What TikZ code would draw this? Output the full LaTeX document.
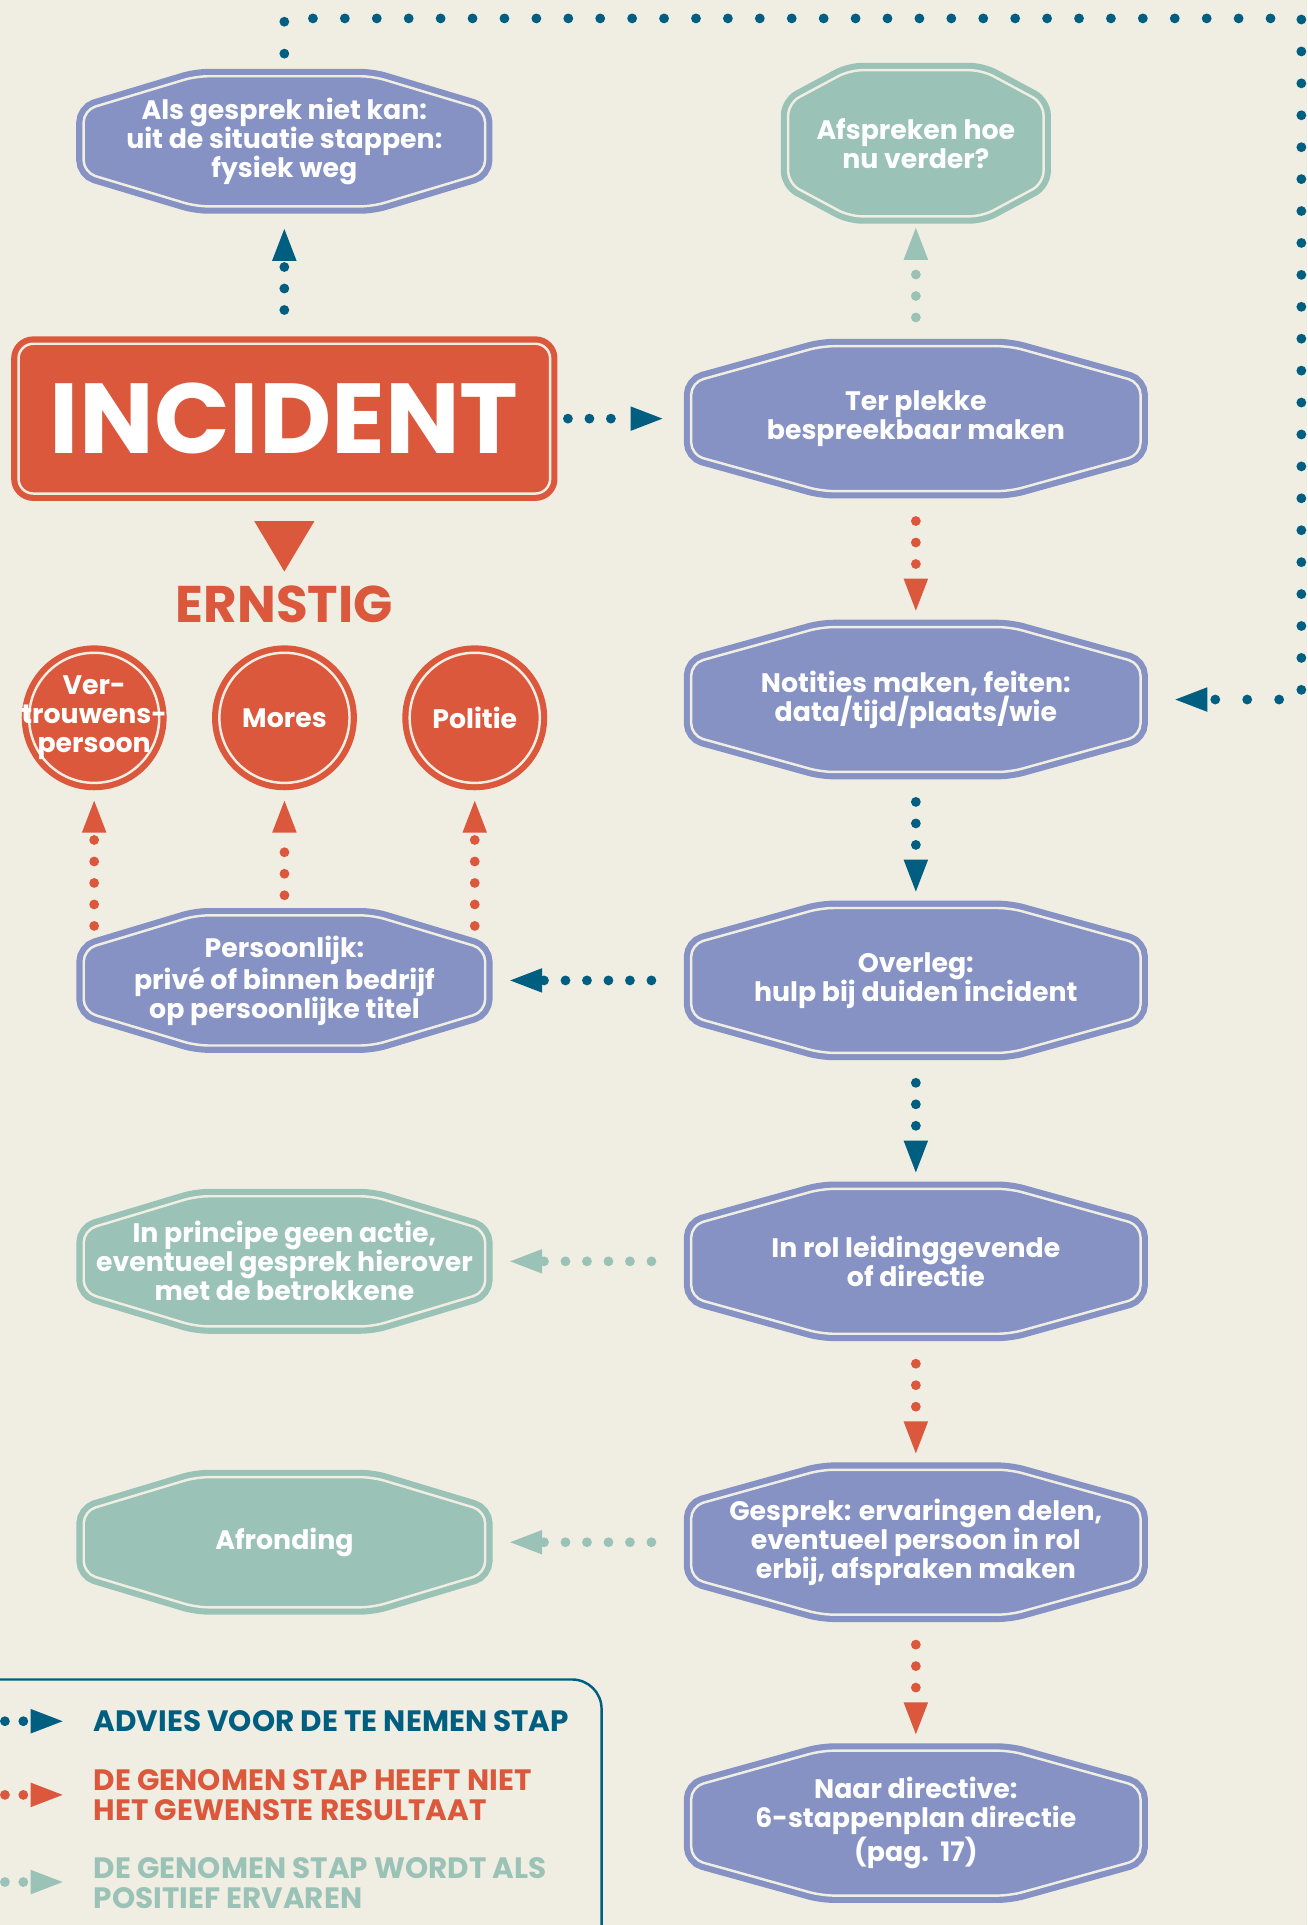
\documentclass[tikz,border=0pt]{standalone}
\usepackage{fontspec}
\setmainfont{Poppins}
\usepackage{tikz}
\usetikzlibrary{
  arrows.meta,
  positioning,
  calc
}
\definecolor{bgcream}{RGB}{240,238,227}
\definecolor{advblue}{RGB}{0,94,128}
\definecolor{nietred}{RGB}{220,88,60}
\definecolor{posgreen}{RGB}{155,194,182}
\definecolor{staplila}{RGB}{133,146,195}
\newcommand{\stapfont}{\fontsize{10.9}{11.8}\selectfont\bfseries}
% octagon with double border, drawn inside a node (path picture)
\newcommand{\octvorm}[3]{%
  \path[draw=#1, fill=#1, double=bgcream, double distance=1pt,
        line width=2.5pt, rounded corners=5pt]
    let \p1=(path picture bounding box.center),
        \p2=(path picture bounding box.north east),
        \n1={\x2-\x1-3pt}, \n2={\y2-\y1-3pt} in
    (\x1, \y1+\n2) -- (\x1+#2*\n1, \y1+\n2) -- (\x1+\n1, \y1+#3*\n2)
    -- (\x1+\n1, \y1-#3*\n2) -- (\x1+#2*\n1, \y1-\n2) -- (\x1-#2*\n1, \y1-\n2)
    -- (\x1-\n1, \y1-#3*\n2) -- (\x1-\n1, \y1+#3*\n2) -- (\x1-#2*\n1, \y1+\n2)
    -- cycle;}
\tikzset{
  hexbase/.style={rectangle, inner sep=0pt, align=center,
    text=white, font=\stapfont},
  stapbox/.style={hexbase, minimum width=189pt, minimum height=65pt,
    path picture={\octvorm{staplila}{0.42}{0.5}}},
  zijbox/.style={hexbase, minimum width=169.5pt, minimum height=59pt,
    path picture={\octvorm{#1}{0.44}{0.48}}},
  afsbox/.style={hexbase, minimum width=110pt, minimum height=65.5pt,
    path picture={\octvorm{posgreen}{0.52}{0.55}}},
  advpijl/.style={draw=advblue, line width=4pt, line cap=round,
    dash pattern=on 0pt off 8.75pt, shorten <=9pt, shorten >=3.5pt,
    -{Triangle[length=13pt, width=10pt, line width=0pt]}},
  nietpijl/.style={advpijl, draw=nietred},
  pospijl/.style={advpijl, draw=posgreen},
}

\begin{document}
\begin{tikzpicture}[
  x=0.5pt, y=-0.5pt,
  incbox/.style={rectangle, draw=nietred, fill=nietred, double=bgcream,
    double distance=1pt, line width=2.5pt, rounded corners=6pt,
    minimum width=216.5pt, minimum height=61pt, inner sep=0pt,
    text=white, font=\fontsize{40.5}{40.5}\selectfont\bfseries},
  cirkel/.style={circle, draw=nietred, fill=nietred, double=bgcream,
    double distance=1pt, line width=2.5pt, minimum size=53pt,
    inner sep=-15pt, align=center, text=white, font=\stapfont},
  legtext/.style={anchor=west, inner sep=0pt, align=left,
    font=\fontsize{12}{12.2}\selectfont\bfseries}
]
  \fill[bgcream] (0,0) rectangle (1065,1568);
  \useasboundingbox (0,0) rectangle (1065,1568);

  % right column
  \node[stapbox] (ter) at (746,341) {Ter plekke\\bespreekbaar maken};
  \node[stapbox, below=49pt of ter] (notities)
    {Notities maken, feiten:\\data/tijd/plaats/wie};
  \node[stapbox, below=49pt of notities] (overleg)
    {Overleg:\\hulp bij duiden incident};
  \node[stapbox, below=49pt of overleg] (inrol)
    {In rol leidinggevende\\of directie};
  \node[stapbox, below=49pt of inrol] (gesprek)
    {Gesprek: ervaringen delen,\\eventueel persoon in rol\\erbij, afspraken maken};
  \node[stapbox, below=49pt of gesprek] (naar)
    {Naar directive:\\6-stappenplan directie\\(pag.\ \ 17)};
  \node[afsbox, above=46.5pt of ter] (afspreken) {Afspreken hoe\\nu verder?};

  % left column
  \node[incbox, left=53pt of ter] (incident) {INCIDENT};
  \node[zijbox=staplila, above=51.5pt of incident] (als)
    {Als gesprek niet kan:\\uit de situatie stappen:\\fysiek weg};
  \node[inner sep=0pt, text=nietred, below=36pt of incident,
        font=\fontsize{21}{21}\selectfont\bfseries] (ernstig) {ERNSTIG};
  \fill[nietred] ([yshift=-10pt]incident.south) ++(-12.25pt,0)
    -- ++(24.5pt,0) -- ++(-12.25pt,-20.5pt) -- cycle;
  \node[zijbox=staplila, left=77.5pt of overleg] (pers)
    {Persoonlijk:\\privé of binnen bedrijf\\op persoonlijke titel};
  \node[zijbox=posgreen, left=77.5pt of inrol] (principe)
    {In principe geen actie,\\eventueel gesprek hierover\\met de betrokkene};
  \node[zijbox=posgreen, left=77.5pt of gesprek] (afronding) {Afronding};

  % circles
  \node[cirkel, above=49.5pt of pers] (mores) {Mores};
  \node[cirkel, left=22pt of mores] (vert) {Ver-\\trouwens-\\persoon};
  \node[cirkel, right=22pt of mores] (politie) {Politie};

  % arrows
  \draw[advpijl, shorten <=12.5pt, shorten >=6pt] (incident.north) -- (als.south);
  \draw[advpijl, shorten <=6pt, shorten >=8.5pt] (incident.east) -- (ter.west);
  \draw[pospijl, shorten <=8.5pt, shorten >=1.5pt] (ter.north) -- (afspreken.south);
  \draw[nietpijl] (ter) -- (notities);
  \draw[advpijl] (notities) -- (overleg);
  \draw[advpijl] (overleg) -- (inrol);
  \draw[nietpijl] (inrol) -- (gesprek);
  \draw[nietpijl] (gesprek) -- (naar);
  \draw[advpijl, shorten <=13pt, shorten >=7pt] (overleg) -- (pers);
  \foreach \a/\b in {inrol/principe, gesprek/afronding} {
    \draw[pospijl, shorten <=13pt, shorten >=7pt] (\a) -- (\b);
  }
  \foreach \c in {vert, politie} {
    \draw[nietpijl, shorten <=0pt, shorten >=6pt]
      ($(\c.south |- pers.north)+(0,-7.5pt)$) -- (\c.south);
  }
  \draw[nietpijl, shorten <=5pt, shorten >=6pt] (pers.north) -- (mores.south);

  % loop back to notities
  \coordinate (hoek) at (1060,15);
  \draw[advpijl, dash pattern=on 0pt off 13pt, shorten <=6pt, shorten >=11pt]
    (als.north) |- (hoek) |- (notities.east);

  % legend
  \draw[advblue, line width=1pt, rounded corners=12pt]
    (-10,1368) -- (490,1368) -- (490,1600);
  \coordinate (lg1a) at (4,1402);  \coordinate (lg1b) at (51,1402);
  \coordinate (lg2a) at (4,1462);  \coordinate (lg2b) at (51,1462);
  \coordinate (lg3a) at (4,1533);  \coordinate (lg3b) at (51,1533);
  \draw[advpijl, shorten <=0pt, shorten >=0pt, dash pattern=on 0pt off 7.5pt] (lg1a) -- (lg1b);
  \draw[nietpijl, shorten <=0pt, shorten >=0pt, dash pattern=on 0pt off 7.5pt] (lg2a) -- (lg2b);
  \draw[pospijl, shorten <=0pt, shorten >=0pt, dash pattern=on 0pt off 7.5pt] (lg3a) -- (lg3b);
  \node[legtext, text=advblue] (lgadv) at (76,1402) {ADVIES VOOR DE TE NEMEN STAP};
  \node[legtext, text=nietred] (lgniet) at (76,1462)
    {DE GENOMEN STAP HEEFT NIET\\HET GEWENSTE RESULTAAT};
  \node[legtext, text=posgreen] (lgpos) at (76,1534)
    {DE GENOMEN STAP WORDT ALS\\POSITIEF ERVAREN};
\end{tikzpicture}
\end{document}
